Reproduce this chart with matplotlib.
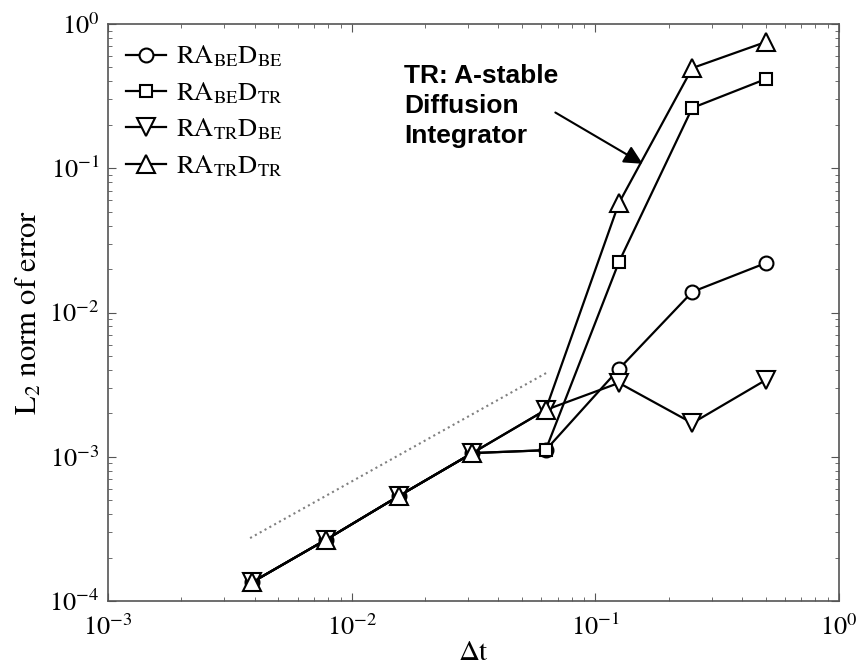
import numpy as np
import matplotlib
matplotlib.use("Agg")
import matplotlib.pyplot as plt

plt.rcParams["mathtext.fontset"] = "stix"
plt.rcParams["font.family"] = ["STIXGeneral", "DejaVu Serif"]

# time steps (1/256 ... 1/2)
dt = [1/256, 1/128, 1/64, 1/32, 1/16, 1/8, 1/4, 1/2]

# L2 error for each scheme combination
err_be_be = [1.35e-4, 2.65e-4, 5.35e-4, 1.06e-3, 1.11e-3, 4.06e-3, 1.39e-2, 2.2e-2]
err_be_tr = [1.35e-4, 2.65e-4, 5.35e-4, 1.06e-3, 1.11e-3, 2.24e-2, 2.62e-1, 4.15e-1]
err_tr_be = [1.35e-4, 2.65e-4, 5.35e-4, 1.06e-3, 2.11e-3, 3.25e-3, 1.71e-3, 3.4e-3]
err_tr_tr = [1.35e-4, 2.65e-4, 5.35e-4, 1.06e-3, 2.11e-3, 5.74e-2, 4.95e-1, 7.5e-1]

labels = [r"$\mathrm{RA_{BE}D_{BE}}$", r"$\mathrm{RA_{BE}D_{TR}}$",
          r"$\mathrm{RA_{TR}D_{BE}}$", r"$\mathrm{RA_{TR}D_{TR}}$"]

# first-order reference slope
ref_x = [3.83e-3, 6.4e-2]
ref_y = [2.73e-4, 3.87e-3]

fig = plt.figure(figsize=(8.57, 6.70), dpi=100)
ax = fig.add_axes([108/857, 1 - 601/670, 731/857, 577/670])

style = dict(color="black", lw=1.6, mfc="white", mec="black", mew=1.5)
ax.loglog(dt, err_be_be, marker="o", ms=10, label=labels[0], **style)
ax.loglog(dt, err_be_tr, marker="s", ms=9, label=labels[1], **style)
ax.loglog(dt, err_tr_be, marker="v", ms=13, label=labels[2], **style)
ax.loglog(dt, err_tr_tr, marker="^", ms=13, label=labels[3], **style)
ax.loglog(ref_x, ref_y, ls=":", color="gray", lw=1.5)

ax.set_xlim(1e-3, 1e0)
ax.set_ylim(1e-4, 1e0)
ax.set_xlabel("\u0394t", fontsize=21, labelpad=0)
ax.set_ylabel(r"$\mathrm{L_2}$ norm of error", fontsize=22, labelpad=4)

ax.tick_params(which="both", direction="in", top=True, right=True, labelsize=19, color="#555555")
ax.tick_params(axis="x", which="major", pad=10)
ax.tick_params(axis="y", which="major", pad=6)
ax.tick_params(which="major", length=6)
ax.tick_params(which="minor", length=3)
for s in ax.spines.values():
    s.set_color("#555555")
    s.set_linewidth(1.2)

ax.legend(loc="upper left", frameon=False, fontsize=19, handlelength=1.5,
          labelspacing=0.41, borderaxespad=0.15, handletextpad=0.4,
          bbox_to_anchor=(0.005, 0.99))

ax.text(0.405, 0.93, "TR: A-stable\nDiffusion\nIntegrator", transform=ax.transAxes,
        ha="left", va="top", fontsize=19, fontweight="bold",
        family="Liberation Sans", linespacing=1.3)
ax.annotate("", xy=(0.16, 0.105), xytext=(0.067, 0.249),
            arrowprops=dict(arrowstyle="-|>", color="black", lw=1.5, mutation_scale=28))

fig.savefig("out.png", dpi=100)
